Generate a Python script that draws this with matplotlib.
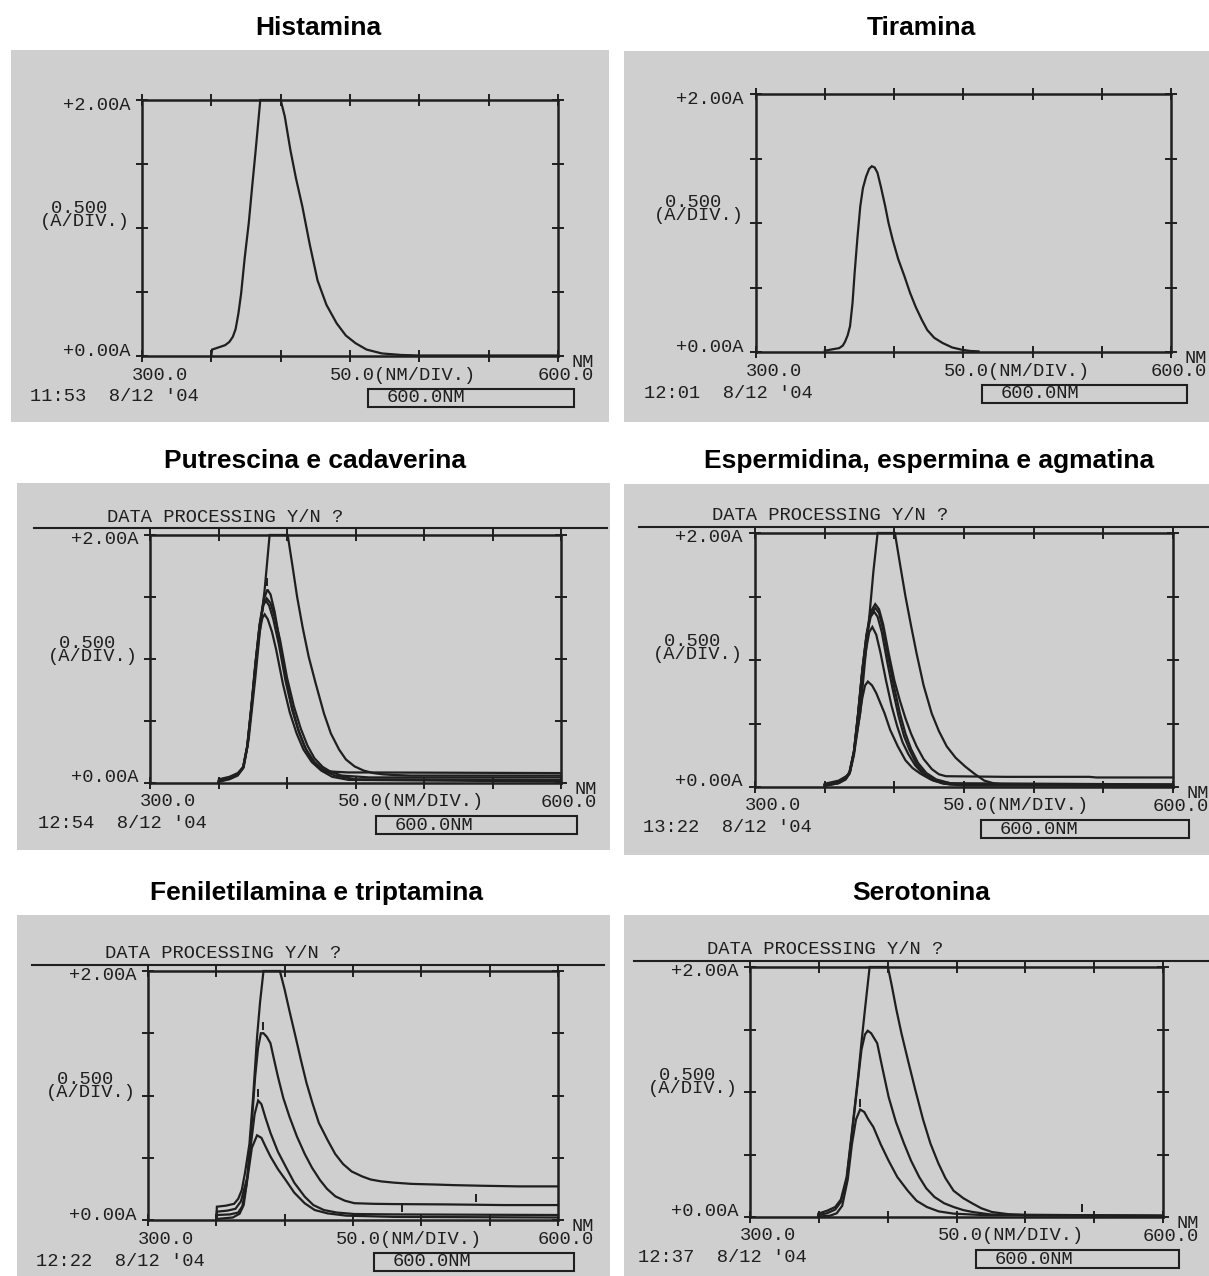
import matplotlib
matplotlib.use("Agg")
import matplotlib.pyplot as plt
from matplotlib.patches import Rectangle
import numpy as np

# ---------------- DATA ----------------
titles = ["Histamina", "Tiramina", "Putrescina e cadaverina",
          "Espermidina, espermina e agmatina",
          "Feniletilamina e triptamina", "Serotonina"]
dates = ["11:53  8/12 '04", "12:01  8/12 '04", "12:54  8/12 '04",
         "13:22  8/12 '04", "12:22  8/12 '04", "12:37  8/12 '04"]
has_prompt = [False, False, True, True, True, True]
prompt_text = "DATA PROCESSING Y/N ?"
y_top_label = "+2.00A"
y_bot_label = "+0.00A"
y_scale_label = "0.500 \n(A/DIV.)"
x_start_label = "300.0"
x_scale_label = "50.0(NM/DIV.)"
x_end_label = "NM\n600.0"
box_label = "600.0NM"
x_ticks = [300, 350, 400, 450, 500, 550, 600]
y_ticks = [0.0, 0.5, 1.0, 1.5, 2.0]

# Histamina
his_nm = [350, 350.5, 356, 360, 363, 365.5, 367.5, 369.5, 371.5, 374, 377, 379.5, 382, 385.3,
          400, 403, 407, 411, 415.6, 421, 426.6, 433, 440.4, 447, 454, 462, 473, 487, 500, 600]
his_ab = [0, 0.05, 0.07, 0.085, 0.11, 0.15, 0.21, 0.33, 0.49, 0.76, 1.04, 1.33, 1.61, 2.0,
          2.0, 1.87, 1.61, 1.39, 1.17, 0.87, 0.59, 0.40, 0.255, 0.16, 0.10, 0.05, 0.02, 0.008, 0.004, 0.004]

# Tiramina
tir_nm = [350, 355, 360.4, 363, 364.6, 366.5, 368.2, 370, 371.5, 373.5, 375.6, 377.5, 379.8, 382,
          383.9, 386, 388, 390.5, 393.6, 396, 399, 403, 407.4, 411.5, 415.6, 420, 424, 429, 435,
          442, 448.8, 455, 461]
tir_ab = [0.01, 0.02, 0.03, 0.05, 0.08, 0.13, 0.2, 0.38, 0.61, 0.88, 1.13, 1.27, 1.36, 1.42,
          1.44, 1.43, 1.39, 1.28, 1.13, 1.0, 0.87, 0.72, 0.59, 0.46, 0.35, 0.25, 0.17, 0.11, 0.07,
          0.035, 0.018, 0.008, 0.005]

# Putrescina e cadaverina
put_a_nm = [350, 350.3, 358, 364, 368.4, 372, 376.7, 380, 383.7, 387.3, 400.5, 404, 407.4, 411.5,
            415.8, 421, 427, 432, 438, 443, 449.3, 456, 463, 470, 477, 490, 600]
put_a_ab = [0, 0.03, 0.05, 0.08, 0.13, 0.35, 0.83, 1.20, 1.56, 2.0, 2.0, 1.75, 1.5, 1.25,
            1.02, 0.80, 0.56, 0.40, 0.27, 0.19, 0.134, 0.10, 0.08, 0.07, 0.065, 0.06, 0.06]
put_b_nm = [350, 350.3, 358, 364, 368, 371, 374, 377, 380, 383, 385.7, 388, 391, 395, 399, 403,
            408, 413, 418, 424, 430, 436, 445, 460, 600]
put_b_ab = [0, 0.02, 0.04, 0.07, 0.13, 0.30, 0.62, 0.97, 1.28, 1.48, 1.56, 1.52, 1.38, 1.12,
            0.86, 0.64, 0.44, 0.29, 0.19, 0.12, 0.095, 0.09, 0.085, 0.085, 0.08]
put_c_nm = [350, 350.3, 358, 364, 368, 371, 374, 377, 380, 383, 385.1, 388, 391, 395, 400, 405,
            410, 415, 420, 426, 432, 440, 460, 600]
put_c_ab = [0, 0.02, 0.04, 0.07, 0.13, 0.30, 0.62, 0.97, 1.27, 1.45, 1.49, 1.45, 1.34, 1.15,
            0.85, 0.62, 0.44, 0.30, 0.20, 0.13, 0.09, 0.06, 0.045, 0.045]
put_d_nm = [350, 350.3, 358, 364, 368, 371, 374, 377, 380, 382.5, 384.6, 387, 390, 394, 399,
            404, 409, 414, 420, 427, 435, 450, 600]
put_d_ab = [0, 0.015, 0.035, 0.065, 0.12, 0.29, 0.60, 0.95, 1.26, 1.43, 1.47, 1.43, 1.32, 1.12,
            0.82, 0.58, 0.40, 0.27, 0.17, 0.10, 0.06, 0.03, 0.025]
put_e_nm = [350, 350.3, 358, 364, 368, 371, 374, 377, 380, 382, 383.7, 386, 389, 392, 397, 402,
            407, 412, 418, 425, 433, 445, 600]
put_e_ab = [0, 0.01, 0.03, 0.06, 0.12, 0.29, 0.60, 0.94, 1.22, 1.33, 1.36, 1.32, 1.22, 1.08,
            0.80, 0.57, 0.40, 0.27, 0.17, 0.10, 0.05, 0.025, 0.012]
put_mark_nm = [385.7]
put_mark_ab = [1.62]

# Espermidina, espermina e agmatina
esp_a_nm = [350, 350.3, 360, 364.7, 367.4, 371, 375.5, 379, 382.3, 385, 388, 400.4, 404, 408,
            412, 416, 421, 426.8, 432, 437.6, 444, 451, 458, 464.6, 471, 478, 490, 600]
esp_a_ab = [0, 0.026, 0.05, 0.08, 0.10, 0.28, 0.58, 1.0, 1.37, 1.7, 2.0, 2.0, 1.76, 1.5,
            1.27, 1.05, 0.80, 0.58, 0.44, 0.32, 0.23, 0.16, 0.10, 0.05, 0.03, 0.02, 0.02, 0.02]
esp_b_nm = [350, 360, 365, 368, 371, 374, 377, 380, 383, 386.3, 389, 392, 396, 400, 404, 408,
            412, 416, 421, 427, 432, 437, 480, 540, 545, 600]
esp_b_ab = [0.02, 0.04, 0.07, 0.12, 0.28, 0.58, 0.92, 1.2, 1.38, 1.44, 1.40, 1.28, 1.05, 0.84,
            0.68, 0.54, 0.42, 0.32, 0.22, 0.14, 0.10, 0.085, 0.08, 0.08, 0.075, 0.075]
esp_c_nm = [350, 360, 365, 368, 371, 374, 377, 380, 383, 386.3, 389, 392, 396, 400, 404, 408,
            412, 417, 423, 430, 440, 600]
esp_c_ab = [0.02, 0.04, 0.07, 0.12, 0.28, 0.58, 0.92, 1.19, 1.36, 1.41, 1.37, 1.24, 1.0, 0.78,
            0.58, 0.42, 0.30, 0.19, 0.11, 0.06, 0.03, 0.02]
esp_d_nm = [350, 360, 365, 368, 371, 374, 377, 380, 383, 385.5, 388, 391, 395, 399, 403, 407,
            411, 416, 422, 430, 445, 600]
esp_d_ab = [0.015, 0.035, 0.065, 0.11, 0.27, 0.57, 0.91, 1.18, 1.34, 1.38, 1.34, 1.22, 0.98,
            0.76, 0.56, 0.40, 0.29, 0.18, 0.10, 0.05, 0.02, 0.012]
esp_e_nm = [350, 360, 365, 368, 371, 374, 377, 380, 382, 384.2, 387, 390, 394, 398, 402, 406,
            410, 415, 421, 428, 440, 600]
esp_e_ab = [0.01, 0.03, 0.06, 0.11, 0.27, 0.56, 0.88, 1.10, 1.22, 1.26, 1.20, 1.06, 0.84, 0.64,
            0.48, 0.35, 0.26, 0.17, 0.10, 0.05, 0.02, 0.01]
esp_f_nm = [350, 360, 365, 368, 371, 374, 377, 379, 381, 384, 387, 390, 393, 397, 402.5, 408,
            413, 418.7, 426, 435, 450, 600]
esp_f_ab = [0.01, 0.03, 0.06, 0.11, 0.25, 0.48, 0.70, 0.80, 0.83, 0.80, 0.74, 0.66, 0.58, 0.45,
            0.32, 0.21, 0.15, 0.105, 0.06, 0.026, 0.012, 0.01]

# Feniletilamina e triptamina
fen_a_nm = [350, 350.4, 357, 363, 366, 368.6, 371, 374.2, 377, 379.8, 382, 384.5, 396.5, 400,
            403.5, 408, 412, 416, 420.3, 425, 431.5, 437, 442.7, 449, 456.7, 463, 470.7, 480, 493,
            510, 524, 545, 571.5, 600]
fen_a_ab = [0, 0.107, 0.115, 0.13, 0.17, 0.24, 0.38, 0.61, 1.0, 1.47, 1.75, 2.0, 2.0, 1.85,
            1.68, 1.47, 1.28, 1.10, 0.94, 0.78, 0.64, 0.53, 0.45, 0.39, 0.35, 0.325, 0.31, 0.30,
            0.29, 0.285, 0.28, 0.275, 0.27, 0.27]
fen_b_nm = [350, 350.4, 358, 364, 368, 372.8, 375.5, 378.4, 380.5, 382.6, 384.5, 387, 389.6, 392,
            395.1, 399, 403.5, 409, 414.7, 420, 425.9, 431, 437.1, 444, 451, 465, 479, 520, 560, 600]
fen_b_ab = [0, 0.067, 0.075, 0.09, 0.15, 0.35, 0.72, 1.15, 1.38, 1.50, 1.50, 1.47, 1.42, 1.30,
            1.15, 0.98, 0.83, 0.67, 0.53, 0.42, 0.32, 0.25, 0.19, 0.155, 0.135, 0.13, 0.128,
            0.125, 0.12, 0.12]
fen_c_nm = [350, 350.4, 360, 366, 369, 372, 375, 378, 380.6, 383, 386, 389.6, 395, 400.7, 407,
            414.7, 421, 428.7, 438, 451, 480, 600]
fen_c_ab = [0, 0.04, 0.045, 0.06, 0.11, 0.28, 0.58, 0.85, 0.96, 0.93, 0.82, 0.70, 0.55, 0.43,
            0.30, 0.187, 0.12, 0.08, 0.06, 0.048, 0.045, 0.04]
fen_d_nm = [352, 362, 367, 370, 373, 376, 379.8, 383, 386, 389.6, 395, 400.8, 407, 414.7, 422,
            431.5, 445, 480, 600]
fen_d_ab = [0.01, 0.02, 0.05, 0.12, 0.35, 0.58, 0.68, 0.66, 0.59, 0.51, 0.41, 0.32, 0.22, 0.134,
            0.08, 0.053, 0.035, 0.025, 0.02]
fen_mark_nm = [384.0, 380.6, 486.0, 540.0]
fen_mark_ab = [1.56, 1.02, 0.095, 0.175]

# Serotonina
ser_a_nm = [349.4, 349.6, 356, 361.9, 366, 370.2, 374, 378.5, 381, 383.5, 386.9, 400.2, 403,
            406.3, 410, 414.6, 420, 425.7, 431, 436.8, 442, 447.9, 455, 461.8, 468, 475.7, 488,
            503, 600]
ser_a_ab = [0, 0.027, 0.05, 0.08, 0.14, 0.32, 0.68, 1.12, 1.40, 1.66, 2.0, 2.0, 1.85, 1.66,
            1.47, 1.26, 1.02, 0.78, 0.59, 0.43, 0.31, 0.21, 0.15, 0.107, 0.07, 0.04, 0.022, 0.013,
            0.01]
ser_b_nm = [349.4, 349.6, 356, 361.9, 366, 370.2, 374, 378.5, 381, 383.5, 385.5, 388, 392.4, 396,
            400.7, 406, 411.8, 417, 422.9, 428, 434, 441, 447.9, 455, 461.8, 475, 600]
ser_b_ab = [0, 0.015, 0.03, 0.06, 0.12, 0.30, 0.66, 1.10, 1.34, 1.46, 1.49, 1.47, 1.39, 1.20,
            0.96, 0.76, 0.59, 0.45, 0.32, 0.23, 0.16, 0.11, 0.08, 0.055, 0.04, 0.02, 0.01]
ser_c_nm = [351, 358, 363, 367, 371, 374, 377, 380, 383, 386, 389.6, 395, 400.7, 407, 414.6,
            421, 428.5, 437, 447.9, 470, 600]
ser_c_ab = [0.005, 0.01, 0.03, 0.09, 0.30, 0.58, 0.78, 0.86, 0.84, 0.78, 0.72, 0.58, 0.45, 0.32,
            0.21, 0.13, 0.08, 0.045, 0.027, 0.015, 0.01]
ser_mark_nm = [380.0, 541.0]
ser_mark_ab = [0.91, 0.07]

panel_curves = [
    [(his_nm, his_ab)],
    [(tir_nm, tir_ab)],
    [(put_a_nm, put_a_ab), (put_b_nm, put_b_ab), (put_c_nm, put_c_ab),
     (put_d_nm, put_d_ab), (put_e_nm, put_e_ab)],
    [(esp_a_nm, esp_a_ab), (esp_b_nm, esp_b_ab), (esp_c_nm, esp_c_ab),
     (esp_d_nm, esp_d_ab), (esp_e_nm, esp_e_ab), (esp_f_nm, esp_f_ab)],
    [(fen_a_nm, fen_a_ab), (fen_b_nm, fen_b_ab), (fen_c_nm, fen_c_ab), (fen_d_nm, fen_d_ab)],
    [(ser_a_nm, ser_a_ab), (ser_b_nm, ser_b_ab), (ser_c_nm, ser_c_ab)],
]
panel_marks = [None, None, (put_mark_nm, put_mark_ab), None,
               (fen_mark_nm, fen_mark_ab), (ser_mark_nm, ser_mark_ab)]

# ---------------- LAYOUT (pixels) ----------------
W, H = 1209, 1276
title_pos = [(318, 28), (921, 28), (315, 461), (929, 461), (316, 893), (921, 893)]
bg_boxes = [(11, 50, 609, 422), (624, 51, 1209, 422), (17, 483, 610, 850),
            (624, 484, 1209, 855), (17, 915, 610, 1276), (624, 915, 1209, 1276)]
ax_boxes = [(142, 558, 100, 356), (755.6, 1171, 94, 352), (150, 561, 535, 783),
            (755, 1173, 533, 787), (148, 558, 971, 1220), (750, 1163, 967, 1217)]

ink = "#1f1f1f"
bg_col = "#cfcfcf"
mono = ["Liberation Mono", "DejaVu Sans Mono"]
msize = 13.5

fig = plt.figure(figsize=(W / 100, H / 100), dpi=100)
fig.patch.set_facecolor("white")


def fx(x):
    return x / W


def fy(y):
    return 1 - y / H


def ptext(x, y, s, ha="left", **kw):
    fig.text(fx(x), fy(y), s, ha=ha, va="center", color=ink,
             family=mono, fontsize=msize, **kw)


for i in range(6):
    x0, y0, x1, y1 = bg_boxes[i]
    fig.add_artist(Rectangle((fx(x0), fy(y1)), (x1 - x0) / W, (y1 - y0) / H,
                             transform=fig.transFigure, facecolor=bg_col,
                             edgecolor="none", zorder=0))
    tx, ty = title_pos[i]
    fig.text(fx(tx), fy(ty), titles[i], ha="center", va="center",
             family=["Liberation Sans", "DejaVu Sans"], fontweight="bold",
             fontsize=19, color="black")

    L, R, T, B = ax_boxes[i]
    ax = fig.add_axes([fx(L), fy(B), (R - L) / W, (B - T) / H])
    ax.set_facecolor("none")
    ax.set_xlim(300, 600)
    ax.set_ylim(0, 2)
    ax.set_xticks(x_ticks)
    ax.set_yticks(y_ticks)
    ax.tick_params(direction="inout", length=8, width=1.4, color=ink,
                   top=True, right=True, labelbottom=False, labelleft=False)
    for sp in ax.spines.values():
        sp.set_linewidth(1.8)
        sp.set_color(ink)

    for nm, ab in panel_curves[i]:
        ax.plot(nm, ab, color=ink, lw=1.6, clip_on=False, solid_joinstyle="miter")
    if panel_marks[i] is not None:
        mn, ma = panel_marks[i]
        ax.plot(mn, ma, linestyle="none", marker="|", markersize=6,
                markeredgewidth=1.4, color=ink)

    # instrument annotations
    ptext(L - 12, T + 5, y_top_label, ha="right")
    fig.text(fx(L - 12), fy(T + 115), y_scale_label, ha="right", va="center",
             multialignment="center", linespacing=0.75, color=ink,
             family=mono, fontsize=msize)
    ptext(L - 12, B - 5, y_bot_label, ha="right")
    ptext(L + 18, B + 19, x_start_label, ha="center")
    ptext(L + 261, B + 19, x_scale_label, ha="center")
    fig.text(fx(R + 36), fy(B + 13), x_end_label, ha="right", va="center",
             multialignment="right", linespacing=0.72, color=ink,
             family=mono, fontsize=msize)
    ptext(L - 112, B + 41, dates[i], ha="left")
    bx0, bx1, by0, by1 = L + 226, R + 15.5, B + 33, B + 51
    fig.add_artist(Rectangle((fx(bx0), fy(by1)), (bx1 - bx0) / W, (by1 - by0) / H,
                             transform=fig.transFigure, facecolor="none",
                             edgecolor=ink, lw=1.5))
    ptext(bx0 + 19, B + 42, box_label, ha="left")

    if has_prompt[i]:
        ptext(L - 43, T - 17.5, prompt_text, ha="left")
        lx1 = min(R + 46, W)
        fig.add_artist(plt.Line2D([fx(L - 116), fx(lx1)], [fy(T - 6.5), fy(T - 6.5)],
                                  transform=fig.transFigure, color=ink, lw=1.5))

fig.savefig("out.png", dpi=100, facecolor="white")
